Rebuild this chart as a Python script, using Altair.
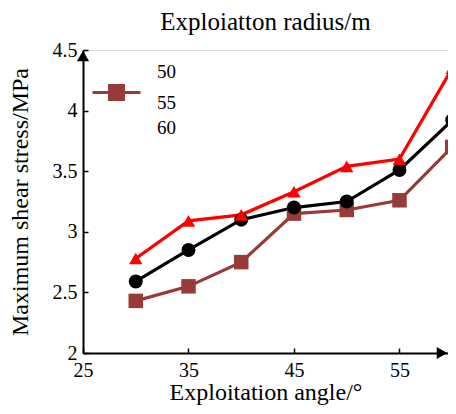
import altair as alt
import pandas as pd

angles = [30, 35, 40, 45, 50, 55, 60]
r50 = [2.43, 2.55, 2.75, 3.15, 3.18, 3.26, 3.70]
r55 = [2.59, 2.85, 3.10, 3.20, 3.25, 3.51, 3.92]
r60 = [2.78, 3.09, 3.14, 3.33, 3.54, 3.60, 4.35]
series = ["50", "55", "60"]
colors = ["#983a38", "#000000", "#ff0000"]
shapes = ["square", "circle", "triangle-up"]
x_ticks = [25, 35, 45, 55]
y_ticks = [2, 2.5, 3, 3.5, 4, 4.5]
x_range = [25, 59.6]
y_range = [2, 4.5]

rows = []
for name, vals in zip(series, [r50, r55, r60]):
    for a, v in zip(angles, vals):
        rows.append({"angle": a, "stress": v, "radius": name, "legend_key": name})
df = pd.DataFrame(rows)

arrows = pd.DataFrame({"angle": [x_range[1], x_range[0]], "stress": [y_range[0], y_range[1]],
                       "kind": ["x", "y"]})

FONT = "Liberation Serif"
BROWN = "#983a38"
xs = alt.Scale(domain=x_range, nice=False, zero=False)
ys = alt.Scale(domain=y_range, nice=False, zero=False)

legend = alt.Legend(
    title=None, orient="none", legendX=20, legendY=8,
    labelFont=FONT, labelFontSize=19, labelColor="#000",
    symbolType="M-2,-0.83H2M-0.58,-1.42H0.58V-0.25H-0.58Z",
    symbolSize=576, symbolStrokeWidth=3, labelOffset=27, rowPadding=-3,
    symbolFillColor=BROWN, symbolStrokeColor=BROWN,
    symbolOpacity=alt.ExprRef("datum.value === '55' ? 1 : 0"),
)
color_nol = alt.Color("radius:N", scale=alt.Scale(domain=series, range=colors), legend=None)

xaxis = alt.Axis(values=x_ticks, title="Exploitation angle/°", grid=False,
                 tickSize=alt.ExprRef("-5"), tickWidth=1.5, tickColor="#000", domainColor="#000", domainWidth=2,
                 labelFont=FONT, labelFontSize=20, labelColor="#000", labelPadding=12,
                 titleFont=FONT, titleFontSize=24, titleFontWeight="normal", titleColor="#000",
                 titlePadding=0, labelFlush=False)
yaxis = alt.Axis(values=y_ticks, title="Maximum shear stress/MPa", grid=False, format=".1~f",
                 tickSize=alt.ExprRef("-5"), tickWidth=1.5, tickColor="#000", domainColor="#000", domainWidth=2,
                 labelFont=FONT, labelFontSize=20, labelColor="#000", labelPadding=11,
                 titleFont=FONT, titleFontSize=24, titleFontWeight="normal", titleColor="#000",
                 titlePadding=20, labelFlush=False)

base = alt.Chart(df)
# invisible layer that only carries the legend (one brown symbol, as in the reference)
leg_layer = base.mark_line(opacity=0, clip=False).encode(
    x=alt.X("angle:Q", scale=xs, axis=xaxis),
    y=alt.Y("stress:Q", scale=ys, axis=yaxis),
    color=alt.Color("legend_key:N", scale=alt.Scale(domain=series, range=[BROWN] * 3), legend=legend),
)
lines = base.mark_line(strokeWidth=3.2, clip=False).encode(
    x=alt.X("angle:Q", scale=xs),
    y=alt.Y("stress:Q", scale=ys),
    color=color_nol,
    order=alt.Order("angle:Q"),
)
points = base.mark_point(filled=True, opacity=1, clip=False).encode(
    x=alt.X("angle:Q", scale=xs),
    y=alt.Y("stress:Q", scale=ys),
    color=color_nol,
    shape=alt.Shape("radius:N", scale=alt.Scale(domain=series, range=shapes), legend=None),
    size=alt.Size("radius:N", scale=alt.Scale(domain=series, range=[210, 180, 240]), legend=None),
)
arr_x = alt.Chart(arrows).transform_filter("datum.kind == 'x'").mark_point(
    shape="triangle-right", filled=True, color="#000", opacity=1, size=150, xOffset=-6
).encode(x=alt.X("angle:Q", scale=xs), y=alt.Y("stress:Q", scale=ys))
arr_y = alt.Chart(arrows).transform_filter("datum.kind == 'y'").mark_point(
    shape="triangle-up", filled=True, color="#000", opacity=1, size=150, yOffset=6
).encode(x=alt.X("angle:Q", scale=xs), y=alt.Y("stress:Q", scale=ys))

chart = alt.layer(leg_layer, lines, points, arr_x, arr_y).resolve_scale(
    color="independent"
).resolve_legend(color="independent").properties(
    width=365, height=303,
    title=alt.Title("Exploiatton radius/m", font=FONT, fontSize=25, fontWeight="normal",
                    color="#000", offset=5, anchor="middle"),
    autosize=alt.AutoSizeParams(type="none"),
    padding={"left": 75, "top": 42, "right": 0, "bottom": 53},
).configure_view(stroke=None).configure(background="white")

chart.save("out.html", embed_options={"renderer": "svg", "actions": False})
